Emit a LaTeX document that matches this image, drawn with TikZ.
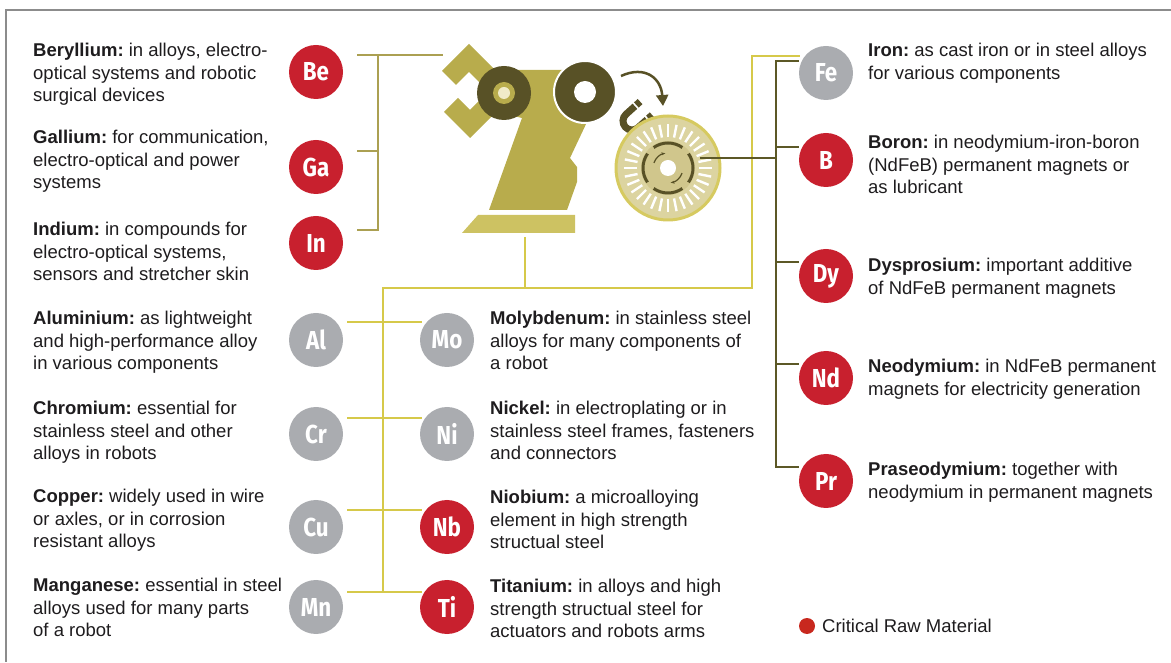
\documentclass[tikz,border=0pt]{standalone}
\usepackage{fontspec}
\setmainfont{Liberation Sans}
\newfontfamily\symfont{Fira Sans}[FakeStretch=0.86]
\usetikzlibrary{arrows.meta,calc}
\frenchspacing

\definecolor{crmred}{RGB}{200,32,46}
\definecolor{elemgrey}{RGB}{170,172,176}
\definecolor{ink}{RGB}{30,28,30}
\definecolor{brkolive}{RGB}{171,160,82}
\definecolor{treeyellow}{RGB}{214,201,74}
\definecolor{darkolive}{RGB}{92,88,38}
\definecolor{armcol}{RGB}{184,172,76}
\definecolor{basecol}{RGB}{205,194,98}
\definecolor{disccol}{RGB}{88,81,38}
\definecolor{cream}{RGB}{240,235,200}
\definecolor{wheelfill}{RGB}{220,212,160}
\definecolor{wheelrim}{RGB}{214,202,96}
\definecolor{wheelin}{RGB}{208,198,140}
\definecolor{legred}{RGB}{200,40,30}
\definecolor{framegrey}{RGB}{140,140,140}

\begin{document}
\begin{tikzpicture}[x=1pt, y=1pt,
    crm/.style={circle, fill=crmred, minimum size=54pt, inner sep=0pt, text=white,
                font=\symfont\bfseries\fontsize{26}{26}\selectfont},
    elem/.style={crm, fill=elemgrey},
    info/.style={anchor=north west, align=left, inner sep=0pt, text=ink,
                 font=\fontsize{18.5}{22.5}\selectfont},
    brk/.style={draw=brkolive, line width=2.6pt},
    tree/.style={draw=treeyellow, line width=2.6pt},
    dk/.style={draw=darkolive, line width=2.6pt}]
  \useasboundingbox (0,0) rectangle (1171,662);
  \draw[framegrey, line width=1.4pt] (1171,652) -- (6,652) -- (6,0);

  % robot: base, arm, gripper, joints
  \fill[basecol] (478,447) -- (575,447) -- (575,429) -- (462,429) -- cycle;
  \fill[armcol] (505,592) -- (570,592) -- (587,540) -- (570,504) -- (577,495)
    -- (577,480) -- (567,452) -- (489,452) -- (522,544) -- (505,548) -- cycle;
  \fill[armcol] (442,591) -- (469,618) -- (500,587) -- (486,573) -- (469,590) -- (456,577) -- cycle;
  \fill[armcol] (444,550) -- (470,524) -- (500,554) -- (486,568) -- (470,552) -- (458,564) -- cycle;
  \fill[disccol] (504,569) circle (27);
  \fill[armcol] (504,569) circle (11);
  \fill[cream] (504,569) circle (6);
  \filldraw[fill=disccol, draw=white, line width=2pt] (585,570) circle (31);
  \fill[white] (585,570) circle (11);

  % magnet and turning arrow
  \draw[disccol, line width=2.5pt, -{Triangle[length=11pt,width=12pt]}]
    (621,586) .. controls (645,597) and (661,584) .. (663,556);
  \begin{scope}[shift={(632,541)}, rotate=42]
    \draw[disccol, line width=7pt] (19,9) -- (0,9) arc (90:270:9) -- (19,-9);
    \draw[white, line width=1.6pt] (13,4) -- (13,14) (13,-4) -- (13,-14);
  \end{scope}

  % generator wheel
  \filldraw[fill=wheelfill, draw=wheelrim, line width=3pt] (668,494) circle (52);
  \foreach \a in {0,11.25,...,349}
    \draw[white, line width=2.4pt] (668,494) ++(\a:31) -- ++(\a:13);
  \fill[wheelin] (668,494) circle (27);
  \foreach \a in {0,90,180,270}
    \draw[disccol, line width=3pt] ([shift={(\a-35:25)}]668,494) arc (\a-35:\a+35:25);
  \draw[disccol, line width=1.2pt, -{Stealth[length=4pt]}] ([shift={(160:15)}]668,494) arc (160:100:15);
  \draw[disccol, line width=1.2pt, -{Stealth[length=4pt]}] ([shift={(340:15)}]668,494) arc (340:280:15);
  \fill[white] (668,494) circle (8);

  % elements
  \node[crm]  (Be) at (316,590) {Be};
  \node[crm]  (Ga) at (316,495) {Ga};
  \node[crm]  (In) at (316,419) {In};
  \node[elem] (Al) at (316,322) {Al};
  \node[elem] (Cr) at (316,228) {Cr};
  \node[elem] (Cu) at (316,135) {Cu};
  \node[elem] (Mn) at (316,55)  {Mn};
  \node[elem] (Mo) at (447,322) {Mo};
  \node[elem] (Ni) at (447,228) {Ni};
  \node[crm]  (Nb) at (447,135) {Nb};
  \node[crm]  (Ti) at (447,55)  {Ti};
  \node[elem] (Fe) at (826,589) {Fe};
  \node[crm]  (B)  at (826,502) {B};
  \node[crm]  (Dy) at (826,386) {Dy};
  \node[crm]  (Nd) at (826,284) {Nd};
  \node[crm]  (Pr) at (826,181) {Pr};

  % left bracket
  \coordinate (b1) at (378,607);
  \coordinate (b2) at (378,511);
  \coordinate (b3) at (378,432);
  \coordinate (grip) at (443,607);
  \draw[brk] ($(Be.east|-b1)+(14,0)$) -- (grip);
  \draw[brk] (b1) -- (b3) -- +(-21,0);
  \draw[brk] (b2) -- +(-21,0);

  % tree below the robot
  \coordinate (foot) at (525,425);
  \coordinate (t0) at (525,374);
  \coordinate (t1) at (383,374);
  \coordinate (t2) at (752,374);
  \coordinate (t3) at (383,70);
  \coordinate (fe) at (800,606);
  \draw[tree] (foot) -- (t0);
  \draw[tree] (t3) -- (t1) -- (t2) |- (fe);
  \foreach \a/\b/\d in {Al/Mo/18, Cr/Ni/16, Cu/Nb/17, Mn/Ti/15}
    \draw[tree] ([shift={(4,\d)}]\a.east) -- ([shift={(2,\d)}]\b.west);

  % right bracket
  \coordinate (r1) at (776,601);
  \coordinate (r5) at (776,195);
  \coordinate (hub) at (700,504);
  \draw[dk] (r1) -- (r5);
  \draw[dk] (hub) -- (hub-|r1);
  \foreach \e/\d in {Fe/12, B/13, Dy/14, Nd/14, Pr/14}
    \draw[dk] ([yshift=\d pt]\e.west) -- +(-24,0);

  % descriptions
  \node[info] (tBe) at (33,619) {\textbf{Beryllium:} in alloys, electro-\\optical systems and robotic\\surgical devices};
  \node[info] (tGa) at (33,532) {\textbf{Gallium:} for communication,\\electro-optical and power\\systems};
  \node[info] (tIn) at (33,440) {\textbf{Indium:} in compounds for\\electro-optical systems,\\sensors and stretcher skin};
  \node[info] (tAl) at (33,351) {\textbf{Aluminium:} as lightweight\\and high-performance alloy\\in various components};
  \node[info] (tCr) at (33,261) {\textbf{Chromium:} essential for\\stainless steel and other\\alloys in robots};
  \node[info] (tCu) at (33,173) {\textbf{Copper:} widely used in wire\\or axles, or in corrosion\\resistant alloys};
  \node[info] (tMn) at (33,84)  {\textbf{Manganese:} essential in steel\\alloys used for many parts\\of a robot};
  \node[info] (tMo) at (490,351) {\textbf{Molybdenum:} in stainless steel\\alloys for many components of\\a robot};
  \node[info] (tNi) at (490,261) {\textbf{Nickel:} in electroplating or in\\stainless steel frames, fasteners\\and connectors};
  \node[info] (tNb) at (490,172) {\textbf{Niobium:} a microalloying\\element in high strength\\structual steel};
  \node[info] (tTi) at (490,83)  {\textbf{Titanium:} in alloys and high\\strength structual steel for\\actuators and robots arms};
  \node[info] (tFe) at (868,619) {\textbf{Iron:} as cast iron or in steel alloys\\for various components};
  \node[info] (tB)  at (868,527) {\textbf{Boron:} in neodymium-iron-boron\\(NdFeB) permanent magnets or\\as lubricant};
  \node[info] (tDy) at (868,404) {\textbf{Dysprosium:} important additive\\of NdFeB permanent magnets};
  \node[info] (tNd) at (868,303) {\textbf{Neodymium:} in NdFeB permanent\\magnets for electricity generation};
  \node[info] (tPr) at (868,200) {\textbf{Praseodymium:} together with\\neodymium in permanent magnets};

  % key
  \node[circle, fill=legred, minimum size=16pt, inner sep=0pt] (key) at (807,36) {};
  \node[anchor=west, inner sep=0pt, text=ink, font=\fontsize{18.5}{22.5}\selectfont] (keytxt) at (822,36) {Critical Raw Material};
\end{tikzpicture}
\end{document}
